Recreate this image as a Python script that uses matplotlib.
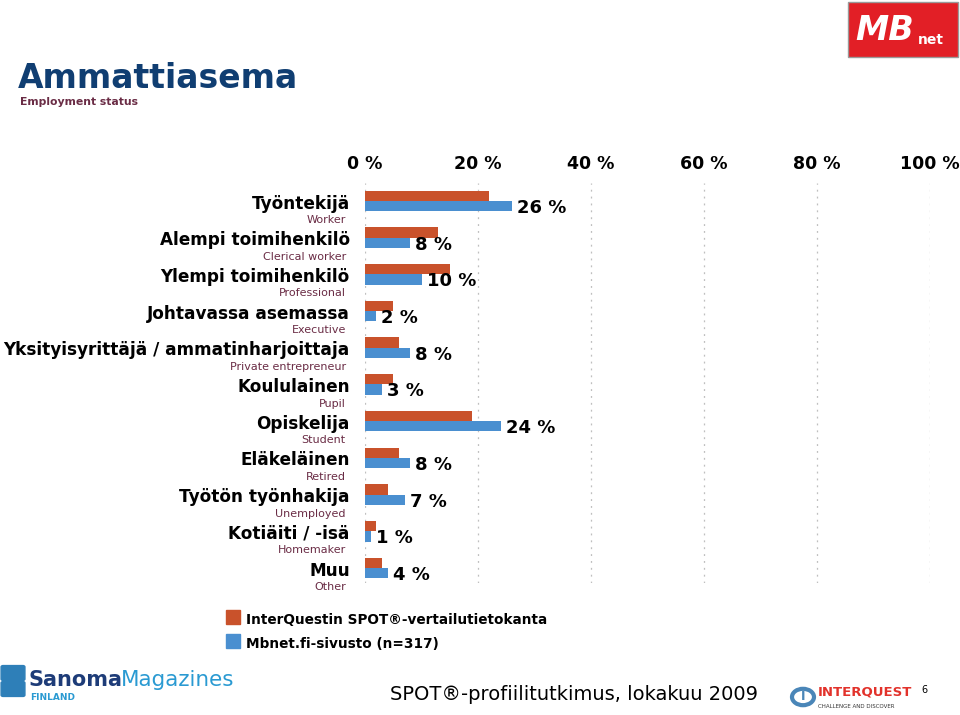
#===============================================================================#
# import external dependencies                                                  #
#===============================================================================#

import matplotlib
matplotlib.use( 'Agg' )
import matplotlib.pyplot as plt
from matplotlib.patches import Rectangle, FancyBboxPatch, Circle
import numpy as np

#===============================================================================#
# data                                                                          #
#===============================================================================#

labels_fi = [ 'Työntekijä', 'Alempi toimihenkilö', 'Ylempi toimihenkilö',
              'Johtavassa asemassa', 'Yksityisyrittäjä / ammatinharjoittaja',
              'Koululainen', 'Opiskelija', 'Eläkeläinen', 'Työtön työnhakija',
              'Kotiäiti / -isä', 'Muu' ]
labels_en = [ 'Worker', 'Clerical worker', 'Professional', 'Executive',
              'Private entrepreneur', 'Pupil', 'Student', 'Retired',
              'Unemployed', 'Homemaker', 'Other' ]
spot_vals  = [ 22, 13, 15, 5, 6, 5, 19, 6, 4, 2, 3 ]
mbnet_vals = [ 26, 8, 10, 2, 8, 3, 24, 8, 7, 1, 4 ]
ticks      = [ 0, 20, 40, 60, 80, 100 ]
series     = [ 'InterQuestin SPOT®-vertailutietokanta', 'Mbnet.fi-sivusto (n=317)' ]

orange = '#C9522B'
blue   = '#4A8FD0'
maroon = '#6A2C45'
navy   = '#103E72'

#===============================================================================#
# figure                                                                        #
#===============================================================================#

W, H = 960, 715
fig = plt.figure( figsize=(W/100, H/100), dpi=100 )

def fx( px ): return px / W
def fy( py ): return 1 - py / H

# axes placed in pixel terms
ax = fig.add_axes( [ fx(365), fy(583), fx(930)-fx(365), fy(183)-fy(583) ] )

y = np.arange( len( labels_fi ) )
h = 0.28
ax.barh( y - h/2 + 0.03, spot_vals,  height=h, color=orange, zorder=3 )
ax.barh( y + h/2 + 0.03, mbnet_vals, height=h, color=blue,   zorder=3 )

ax.set_xlim( 0, 100 )
ax.set_ylim( 10.44, -0.46 )

for t in ticks:
    ax.axvline( t, color='#BFBFBF', lw=0.9, ls=(0,(1.5,4)), zorder=1 )

ax.xaxis.tick_top()
ax.set_xticks( ticks )
ax.set_xticklabels( [ f"{t} %" for t in ticks ], fontsize=12.5, fontweight='bold' )
ax.tick_params( axis='x', length=0, pad=7 )
ax.set_yticks( [] )
for s in ax.spines.values(): s.set_visible( False )

# value labels for Mbnet series
for i, v in enumerate( mbnet_vals ):
    ax.text( v + 0.9, i + 0.22, f"{v} %", fontsize=13, fontweight='bold',
             ha='left', va='center', zorder=4 )

# category labels
for i, ( fi, en ) in enumerate( zip( labels_fi, labels_en ) ):
    ax.text( -2.7, i + 0.1, fi, fontsize=12.2, fontweight='bold', ha='right',
             va='center', clip_on=False )
    ax.text( -3.4, i + 0.55, en, fontsize=8, color=maroon, ha='right',
             va='center', clip_on=False )

#===============================================================================#
# titles, legend, footer                                                        #
#===============================================================================#

fig.text( fx(18), fy(78), 'Ammattiasema', fontsize=23.8, fontweight='bold',
          color=navy, va='center' )
fig.text( fx(20), fy(102), 'Employment status', fontsize=7.8, fontweight='bold',
          color=maroon, va='center' )

for k, ( name, c ) in enumerate( zip( series, [ orange, blue ] ) ):
    yy = 617 + 24*k
    fig.patches.append( Rectangle( ( fx(226), fy(yy+7) ), fx(14), 14/H,
                                   color=c, transform=fig.transFigure ) )
    fig.text( fx(246), fy(yy+3), name, fontsize=9.85, fontweight='bold', va='center' )

fig.text( fx(390), fy(695), 'SPOT®-profiilitutkimus, lokakuu 2009', fontsize=14,
          va='center' )
fig.text( fx(921), fy(690), '6', fontsize=7, va='center' )

# MBnet logo
fig.patches.append( Rectangle( ( fx(848), fy(57) ), fx(110), 55/H, facecolor='#E21F26',
                               edgecolor='#9A9A9A', lw=1, transform=fig.transFigure ) )
fig.text( fx(855), fy(31), 'MB', fontsize=24, fontweight='bold', style='italic',
          color='white', va='center' )
fig.text( fx(918), fy(40), 'net', fontsize=10, fontweight='bold', color='white',
          va='center' )

# Sanoma Magazines logo
for dy in [ 667, 683 ]:
    fig.patches.append( FancyBboxPatch( ( fx(3), fy(dy+12) ), fx(20), 12/H,
                                        boxstyle='round,pad=0.002', color='#2E7FB8',
                                        transform=fig.transFigure ) )
fig.text( fx(28), fy(680), 'Sanoma', fontsize=15, fontweight='bold', color='#1E3C78',
          va='center' )
fig.text( fx(121), fy(680), 'Magazines', fontsize=15.5, color='#2A9AD2', va='center' )
fig.text( fx(30), fy(697), 'FINLAND', fontsize=6.5, fontweight='bold', color='#2A9AD2',
          va='center' )

# InterQuest logo
fig.patches.append( Circle( ( fx(803), fy(697) ), 11/W, facecolor='white',
                            edgecolor='#4A86B8', lw=3, transform=fig.transFigure ) )
fig.text( fx(803), fy(697), 'I', fontsize=9, fontweight='bold', color='#4A86B8',
          ha='center', va='center' )
fig.text( fx(818), fy(692), 'INTERQUEST', fontsize=9.5, fontweight='bold',
          color='#E2322B', va='center' )
fig.text( fx(818), fy(706), 'CHALLENGE AND DISCOVER', fontsize=4, color='#333333',
          va='center' )

fig.savefig( 'out.png', dpi=100 )
